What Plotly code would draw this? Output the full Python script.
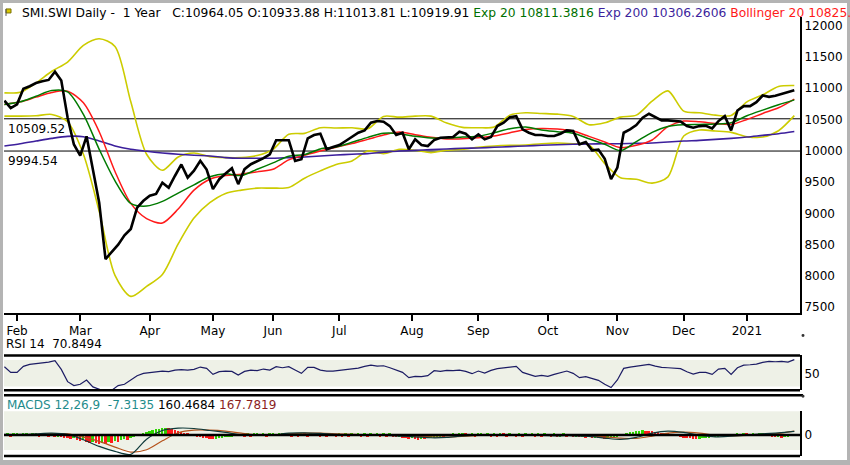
"""SMI.SWI daily, 1 year: price with EMA/Bollinger, RSI 14 and MACD panels."""

import pandas as pd
import plotly.graph_objects as go

W, H = 850, 465
FONT = "DejaVu Sans, Verdana, sans-serif"

# SIX trading sessions, 28 Jan 2020 - 25 Jan 2021
holidays = ["2020-04-10", "2020-04-13", "2020-05-01", "2020-05-21", "2020-06-01",
            "2020-12-24", "2020-12-25", "2020-12-31", "2021-01-01"]
sessions = pd.bdate_range("2020-01-28", "2021-01-25", freq="C", holidays=holidays)

# daily close, every 2nd session
close = [
    10800, 10680, 10740, 10990, 11030, 11080, 11110, 11130, 11260, 11120,
    10530, 10100, 9920, 10230, 9700, 9170, 8270, 8380, 8500, 8650,
    8750, 9090, 9200, 9280, 9310, 9490, 9410, 9600, 9780, 9570,
    9680, 9840, 9700, 9386, 9545, 9635, 9720, 9466, 9705, 9784,
    9826, 9880, 9943, 10166, 10166, 10166, 9837, 9863, 10197, 10250,
    10271, 10022, 10059, 10090, 10155, 10218, 10287, 10325, 10446, 10473,
    10462, 10393, 10250, 10287, 10022, 10181, 10091, 10075, 10170, 10208,
    10208, 10218, 10303, 10271, 10181, 10261, 10181, 10218, 10393, 10446,
    10536, 10552, 10340, 10287, 10250, 10250, 10234, 10234, 10271, 10324,
    10314, 10102, 10139, 10006, 10017, 9870, 9545, 9731, 10287, 10340,
    10409, 10526, 10590, 10536, 10484, 10484, 10473, 10467, 10393, 10367,
    10393, 10399, 10356, 10473, 10552, 10324, 10642, 10711, 10711, 10775,
    10881, 10860, 10876, 10902, 10934, 10964,
]

# indicator lines, every 5th session
ema20 = [
    10738, 10780, 10870, 10960, 10939, 10579, 10022, 9519, 9158, 9116,
    9190, 9323, 9455, 9583, 9630, 9604, 9704, 9805, 9911, 9938,
    10028, 10060, 10134, 10213, 10277, 10272, 10229, 10203, 10203, 10218,
    10229, 10287, 10351, 10378, 10330, 10303, 10277, 10192, 10102, 10001,
    10144, 10293, 10388, 10415, 10420, 10425, 10446, 10558, 10648, 10733, 10811,
]
ema200 = [
    10075, 10112, 10155, 10197, 10229, 10224, 10155, 10075, 10022, 9990,
    9964, 9943, 9927, 9916, 9890, 9879, 9879, 9879, 9890, 9900,
    9916, 9932, 9943, 9953, 9975, 9996, 10006, 10017, 10028, 10038,
    10044, 10054, 10065, 10075, 10086, 10096, 10102, 10107, 10112, 10112,
    10117, 10123, 10139, 10155, 10165, 10181, 10197, 10218, 10245, 10271, 10306,
]
boll_mid = [
    10738, 10780, 10855, 10929, 10950, 10764, 10303, 9667, 9158, 8915,
    8846, 9068, 9370, 9545, 9604, 9625, 9662, 9704, 9853, 9927,
    9996, 10054, 10113, 10181, 10250, 10298, 10256, 10213, 10187, 10192,
    10208, 10234, 10287, 10340, 10356, 10346, 10314, 10229, 10139, 10049,
    10086, 10171, 10383, 10473, 10462, 10436, 10420, 10499, 10595, 10685, 10825,
]
boll_up = [
    10923, 10934, 11082, 11268, 11416, 11681, 11787, 11665, 10780, 9943,
    9688, 9900, 9964, 9906, 9890, 9890, 9922, 10022, 10261, 10277,
    10367, 10362, 10367, 10351, 10547, 10536, 10552, 10552, 10441, 10372,
    10367, 10378, 10568, 10605, 10595, 10584, 10547, 10415, 10446, 10536,
    10568, 10791, 10955, 10632, 10605, 10568, 10563, 10780, 10892, 11024, 11040,
]
boll_low = [
    10552, 10552, 10558, 10579, 10462, 9943, 9031, 8008, 7674, 7833,
    8024, 8512, 8925, 9169, 9318, 9370, 9402, 9402, 9413, 9561,
    9678, 9779, 9837, 9996, 9953, 10022, 10006, 9969, 10006, 10022,
    10054, 10075, 10086, 10091, 10112, 10123, 10112, 10091, 9794, 9567,
    9545, 9482, 9583, 10234, 10330, 10314, 10293, 10224, 10218, 10319, 10560,
]
ref_levels = [10509.52, 9994.54]

# RSI 14, every 2nd session
rsi = [
    60, 51.5, 51.5, 60.5, 63.5, 64.5, 65, 67, 69, 56,
    37.5, 31.5, 33.5, 40, 29.5, 25.5, 22.5, 24.5, 31.5, 33.5,
    40, 46.5, 50, 51, 51.5, 53.5, 52.5, 55, 55.5, 55,
    56, 59.5, 57.5, 48.5, 52.5, 53.5, 53, 47.5, 53, 55,
    54, 56.5, 55, 60, 58.5, 60, 55, 50, 59, 59,
    55, 53.5, 53.5, 54.5, 56, 56, 58, 60.5, 62.5, 61,
    61.5, 58.5, 54.5, 51.5, 43.5, 45.5, 45, 46.5, 54, 53,
    54.5, 54, 55, 53, 49.5, 53.5, 50.5, 54.5, 57, 58.5,
    60, 60.5, 51.5, 48, 45.5, 47, 45.5, 48.5, 51.5, 53.5,
    50, 43.5, 45, 42.5, 39.5, 33.5, 28.5, 40, 57.5, 59.5,
    60.5, 62, 63.5, 61, 59, 58.5, 58, 57, 52.5, 49,
    51.5, 51.5, 48.5, 56.5, 57.5, 48.5, 58.5, 62.5, 63, 64,
    66.5, 68, 67.5, 68, 67, 70.8,
]

# MACD 12,26,9 lines, every 5th session
macd = [
    28, 28, 56, 84, 28, -196, -476, -686, -810, -170,
    196, 294, 280, 196, 112, 14, -14, 0, 84, 98,
    70, 28, 14, 0, -14, -42, -70, -112, -98, -28,
    14, 14, 0, 0, -14, -28, -28, -56, -126, -182,
    -98, 84, 168, 112, 0, -70, -42, 0, 56, 98, 160,
]
macd_signal = [
    14, 14, 28, 56, 56, -84, -266, -504, -714, -616,
    -240, 98, 210, 210, 168, 84, 14, 0, 56, 84,
    84, 56, 28, 14, 0, -14, -42, -70, -84, -56,
    -14, 14, 14, 0, 0, -14, -14, -28, -70, -126,
    -140, -42, 84, 126, 84, 0, -28, -14, 28, 70, 168,
]
# MACD histogram, every session
macd_hist = [
    -60, 80, -90, 60, 100, -50, 80, 90, -60, 70, 90, -80, 60, 80, -70, 60, -90, -80, -100, -120,
    -140, -180, -150, -220, -260, -220, -300, -340, -300, -360, -380, -330, -370, -310,
    -340, -270, -300, -230, -190, -210, -140, -90, -40,
    30, 80, 130, 170, 210, 240, 270, 290, 300,
    290, 260, 220, 180, 140, 100, 60,
    20, -30, -70, -100, -130, -150, -160, -170,
    -160, -140, -120, -100, -90, -80, -60, -50, -40,
    -70, 60, -80, 50, 80, -60, 70, -70, 60, 90, -50, 70,
    80, -60, 90, -70, 60, -90, 80, 50, -70, 90, -60, 80, -90, 60, -70, 90, -60, -90, 80, -70,
    60, -90, 80, -60, 90, -70, 60, -90, 80, -60, 80, -90, 60, -70, 80, -90, -100, -90, -110,
    -130, -160, -140, -180, -200, -170, -190, -150, -130, -110,
    -90, -70, -80, -50, -60, 40, -40, 60, 70, 50,
    -60, 80, -70, 60, 90, -60, 80, -70, 60, -90, 80, 60, -70, 90, -60, -90, 80, -70, 60, -60,
    90, -70, 60, -90, 80, -60, -70, 60, -90,
    -70, 60, -80, -60, -90, -70, -100, -80, -110, -100, -120, -110, -130,
    -140, -160, -150, -130, -110, -80, -40,
    30, 70, 110, 140, 160, 180, 190, 180, 170, 160,
    140, 120, 100, 80, 50, 20, -30, -60, -90, -110, -130, -150, -160, -170, -160,
    -150, -130, -120, -100, -90, -70, -60, -50, -40, -30, -20,
    60, -60, 80, 50, -60, 80, -50, 60, 80, -60,
    -60, -80, -100, -90, -110, -80, -70, -50, -7,
]

x_close = list(range(0, len(sessions), 2))[: len(close)]
x_slow = list(range(0, len(sessions), 5))[: len(ema20)]
x_hist = list(range(len(macd_hist)))

tick_pos, tick_text = [], []
prev = None
for i, d in enumerate(sessions):
    if prev is not None and d.month != prev:
        tick_pos.append(i)
        tick_text.append("2021" if d.month == 1 else d.strftime("%b"))
    prev = d.month


def px(x):
    return x / W


def py(y):
    return 1 - y / H


XR = [-0.13, 251.8]
XD = [px(4), px(800)]

fig = go.Figure()

main_lines = [
    (boll_up, "#cccc00", 1.6),
    (boll_low, "#cccc00", 1.6),
    (ema200, "#3c1f9c", 1.6),
    (boll_mid, "#ff1a1a", 1.5),
    (ema20, "#007a00", 1.5),
]
for vals, color, width in main_lines:
    fig.add_trace(go.Scatter(
        x=x_slow, y=vals, mode="lines", xaxis="x", yaxis="y",
        line=dict(color=color, width=width, shape="spline", smoothing=0.8),
    ))
fig.add_trace(go.Scatter(
    x=x_close, y=close, mode="lines", xaxis="x", yaxis="y",
    line=dict(color="#000000", width=2.6),
))

fig.add_trace(go.Scatter(
    x=x_close, y=rsi, mode="lines", xaxis="x2", yaxis="y2",
    line=dict(color="#1c1c64", width=1.2),
))

hist_colors = ["#2fd400" if i > 0 and v >= macd_hist[i - 1] else "#ff1a1a"
               for i, v in enumerate(macd_hist)]
fig.add_trace(go.Bar(
    x=x_hist, y=macd_hist, xaxis="x3", yaxis="y3", width=0.62,
    marker=dict(color=hist_colors, line=dict(width=0)),
))
fig.add_trace(go.Scatter(
    x=x_slow, y=macd_signal, mode="lines", xaxis="x3", yaxis="y3",
    line=dict(color="#b5531c", width=1.2, shape="spline", smoothing=0.8),
))
fig.add_trace(go.Scatter(
    x=x_slow, y=macd, mode="lines", xaxis="x3", yaxis="y3",
    line=dict(color="#0e3a3a", width=1.2, shape="spline", smoothing=0.8),
))

tickfont = dict(family=FONT, size=12, color="#000000")
common_x = dict(range=XR, domain=XD, showgrid=False, zeroline=False, fixedrange=True)
common_y = dict(side="right", showgrid=False, zeroline=False, showline=True,
                linecolor="#000000", linewidth=2, ticks="", tickfont=tickfont)

price_ticks = list(range(7500, 12001, 500))

shapes = []


def hline(y, x0=4, x1=800, width=2):
    shapes.append(dict(type="line", xref="paper", yref="paper", x0=px(x0), x1=px(x1),
                       y0=py(y), y1=py(y), line=dict(color="#000000", width=width)))


# reference price levels
for lvl in ref_levels:
    shapes.append(dict(type="line", xref="paper", yref="y", x0=XD[0], x1=XD[1],
                       y0=lvl, y1=lvl, line=dict(color="#000000", width=1), layer="below"))
# RSI panel
shapes.append(dict(type="rect", xref="paper", yref="y2", x0=XD[0], x1=XD[1], y0=30, y1=70,
                   fillcolor="#eef1e7", line=dict(width=0), layer="below"))
hline(357, width=2.5)
hline(392, width=2.5)
# MACD panel
shapes.append(dict(type="rect", xref="paper", yref="paper", x0=XD[0], x1=XD[1],
                   y0=py(452), y1=py(413), fillcolor="#eef1e7", line=dict(width=0),
                   layer="below"))
hline(397, x1=803, width=2.5)
hline(458, width=2.5)
shapes.append(dict(type="line", xref="paper", yref="y3", x0=XD[0], x1=XD[1], y0=0, y1=0,
                   line=dict(color="#000000", width=2.5)))
# small resize handles
for yy in (337, 398):
    shapes.append(dict(type="circle", xref="paper", yref="paper", x0=px(801.5), x1=px(804.5),
                       y0=py(yy + 1.5), y1=py(yy - 1.5), fillcolor="#333333",
                       line=dict(width=0)))
# flag icon
shapes.append(dict(type="rect", xref="paper", yref="paper", x0=px(6), x1=px(11),
                   y0=py(13), y1=py(9), fillcolor="#d8c800", line=dict(color="#7a7000", width=1)))
shapes.append(dict(type="line", xref="paper", yref="paper", x0=px(6), x1=px(6),
                   y0=py(16), y1=py(9), line=dict(color="#555555", width=1)))
# outer frame
shapes.append(dict(type="rect", xref="paper", yref="paper", x0=0, x1=1, y0=0, y1=1,
                   line=dict(color="#b4b4b4", width=6)))

nb = "\u00a0"
title = (
    f"SMI.SWI Daily -{nb}{nb}1 Year{nb}{nb}{nb}C:10964.05 O:10933.88 H:11013.81 L:10919.91 "
    "<span style='color:#007000'>Exp 20 10811.3816</span> "
    "<span style='color:#3c1f9c'>Exp 200 10306.2606</span> "
    "<span style='color:#ff1a1a'>Bollinger 20 10825.29</span>"
)
macd_label = (
    f"<span style='color:#1f8c8c'>MACDS 12,26,9{nb}{nb}-7.3135</span> 160.4684 "
    "<span style='color:#8b1e1e'>167.7819</span>"
)

annotations = [
    dict(text=title, x=px(20), y=py(13), xanchor="left", yanchor="middle", size=12.3),
    dict(text=f"RSI 14{nb}{nb}70.8494", x=px(4), y=py(345), xanchor="left", yanchor="middle"),
    dict(text=macd_label, x=px(5), y=py(407), xanchor="left", yanchor="middle"),
]
for lvl in ref_levels:
    annotations.append(dict(text=f"{lvl:.2f}", x=px(6), y=lvl, yref="y", xanchor="left",
                            yanchor="top", yshift=-1))
for a in annotations:
    a.setdefault("xref", "paper")
    a.setdefault("yref", "paper")
    a["showarrow"] = False
    a["font"] = dict(family=FONT, size=a.pop("size", 12), color="#000000")

fig.update_layout(
    width=W, height=H,
    margin=dict(l=0, r=0, t=0, b=0),
    paper_bgcolor="#ffffff", plot_bgcolor="#ffffff",
    showlegend=False, hovermode=False, bargap=0,
    font=dict(family=FONT, size=12, color="#000000"),
    xaxis=dict(common_x, anchor="y", tickvals=tick_pos, ticktext=tick_text,
               ticks="outside", ticklen=6, tickwidth=2, tickcolor="#000000",
               showline=True, linecolor="#000000", linewidth=2, tickfont=tickfont),
    yaxis=dict(common_y, anchor="x", domain=[py(314), py(17)], range=[7414, 12136],
               tickvals=price_ticks, ticktext=[str(v) for v in price_ticks]),
    xaxis2=dict(common_x, anchor="y2", showticklabels=False, showline=False),
    yaxis2=dict(common_y, anchor="x2", domain=[py(392), py(357)], range=[24.4, 77],
                tickvals=[50], ticktext=["50"]),
    xaxis3=dict(common_x, anchor="y3", showticklabels=False, showline=False),
    yaxis3=dict(common_y, anchor="x3", domain=[py(458), py(413)], range=[-882, 1008],
                tickvals=[0], ticktext=["0"]),
    shapes=shapes,
    annotations=annotations,
)

# the page body has a default 8px margin; drop it so the figure fills the window
fig.write_html(
    "out.html",
    config={"displayModeBar": False},
    post_script="document.body.style.margin='0';document.body.style.overflow='hidden';",
)
